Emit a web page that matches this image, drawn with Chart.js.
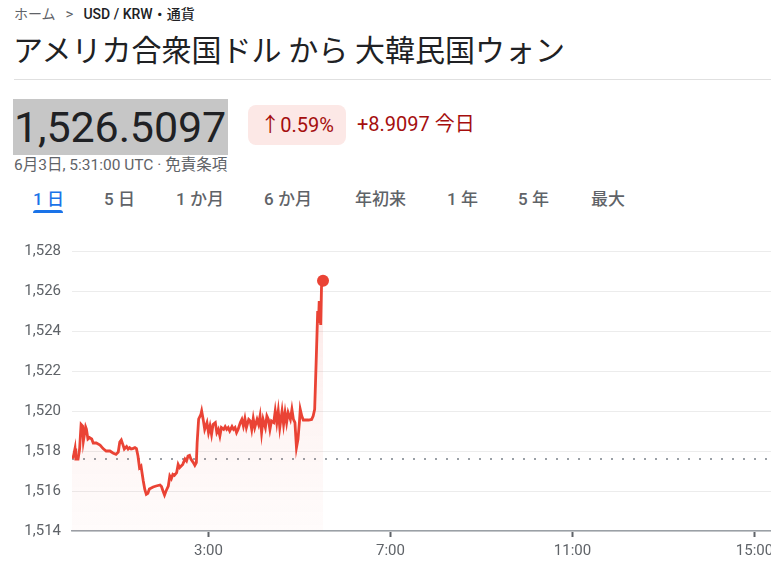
<!DOCTYPE html>
<html lang="ja">
<head>
<meta charset="utf-8">
<title>USD / KRW</title>
<script src="https://cdn.jsdelivr.net/npm/chart.js@4.4.1/dist/chart.umd.min.js"></script>
<style>
  html, body { margin: 0; padding: 0; background: #fff; overflow: hidden; width: 771px; height: 581px; }
  body { position: relative; font-family: Roboto, "Noto Sans CJK JP", sans-serif; color: #202124; }
  .abs { position: absolute; white-space: nowrap; }
  .crumb { left: 14px; top: 4px; font-size: 14px; line-height: 20px; font-family: Roboto, "Noto Sans CJK JP", sans-serif; }
  .crumb .home { color: #5f6368; }
  .crumb .sep { color: #5f6368; margin: 0 10px 0 10px; font-size: 15px; }
  .crumb .cur { color: #202124; font-weight: 500; }
  .title { left: 13px; top: 27px; font-size: 30px; line-height: 42px; font-family: "Noto Sans CJK JP", sans-serif; color: #202124; }
  .rule { left: 14px; top: 79px; width: 757px; height: 1px; background: #e0e0e0; }
  .price { left: 13px; top: 99px; width: 215px; height: 56px; background: #c6c6c6; font-size: 43px; line-height: 56px; letter-spacing: -0.1px; color: #202124; }
  .price span { padding-left: 1px; }
  .badge { left: 248px; top: 105px; width: 98px; height: 40px; border-radius: 8px; background: #fce8e6; color: #a50e0e; font-size: 20px; line-height: 40px; text-align: center; font-weight: 400; }
  .delta { left: 357px; top: 109px; font-size: 20px; line-height: 28px; color: #a50e0e; font-weight: 400; }
  .delta .jp { font-family: "Noto Sans CJK JP", sans-serif; font-weight: 400; }
  .stamp { left: 14px; top: 154px; font-size: 15.5px; line-height: 22px; color: #5f6368; }
  .tab { top: 187px; font-size: 17px; line-height: 24px; color: #5f6368; font-weight: 500; font-family: Roboto, "Noto Sans CJK JP", sans-serif; }
  .tab.on { color: #1a73e8; }
  .bar { left: 33px; top: 210px; width: 30px; height: 3px; background: #1a73e8; border-radius: 3px 3px 0 0; }
  #wrap { position: absolute; left: 0; top: 231px; width: 1170px; height: 350px; }
</style>
</head>
<body>
  <div class="abs crumb"><span class="home">ホーム</span><span class="sep">&gt;</span><span class="cur">USD / KRW・通貨</span></div>
  <div class="abs title">アメリカ合衆国ドル から 大韓民国ウォン</div>
  <div class="abs rule"></div>
  <div class="abs price"><span>1,526.5097</span></div>
  <div class="abs badge">↑0.59%</div>
  <div class="abs delta">+8.9097 <span class="jp">今日</span></div>
  <div class="abs stamp">6月3日, 5:31:00 UTC · 免責条項</div>
  <div class="abs tab on" style="left:33px;">1 日</div>
  <div class="abs tab" style="left:104px;">5 日</div>
  <div class="abs tab" style="left:176px;">1 か月</div>
  <div class="abs tab" style="left:264px;">6 か月</div>
  <div class="abs tab" style="left:355px;">年初来</div>
  <div class="abs tab" style="left:447px;">1 年</div>
  <div class="abs tab" style="left:518px;">5 年</div>
  <div class="abs tab" style="left:591px;">最大</div>
  <div class="abs bar"></div>
  <div id="wrap"><canvas id="chart"></canvas></div>

<script>
// 1日チャート: 分(0:00 UTC から)とレート
const minutes = [
  0, 2, 4, 5, 8, 10, 12, 14, 15, 18, 19, 21, 23, 26, 28, 32, 37, 41, 45, 50,
  54, 58, 61, 63, 65, 67, 69, 72, 74, 76, 78, 80, 83, 85, 87, 89, 91, 94, 96, 98,
  100, 102, 107, 111, 116, 118, 120, 122, 124, 127, 129, 131, 133, 135, 138, 140, 142, 144, 146, 149,
  151, 153, 155, 157, 160, 162, 164, 165, 167, 170, 171, 173, 175, 178, 180, 182, 184, 186, 189, 191,
  193, 195, 197, 200, 202, 204, 206, 208, 211, 213, 215, 217, 219, 222, 224, 226, 228, 230, 233, 235,
  237, 239, 241, 244, 246, 248, 250, 252, 255, 257, 259, 261, 263, 266, 268, 270, 272, 274, 277, 279,
  281, 283, 285, 288, 290, 292, 294, 296, 298, 300, 301, 303, 305, 307, 312, 316, 318, 320, 322, 324,
  325, 326, 328, 329, 331,
];
const rates = [
  1517.63, 1517.75, 1518.13, 1517.6, 1517.6, 1518.1, 1519.33, 1519.25, 1518.5, 1519.2, 1519.1, 1518.6, 1518.67, 1518.6, 1518.4, 1518.4, 1518.3, 1518.12, 1518.0, 1518.0,
  1517.9, 1517.83, 1517.95, 1518.45, 1518.55, 1518.33, 1518.1, 1518.22, 1518.1, 1518.17, 1518.1, 1518.12, 1518.17, 1518.12, 1517.75, 1517.17, 1517.25, 1516.5, 1516.08, 1515.83,
  1515.88, 1516.1, 1516.2, 1516.25, 1516.3, 1516.22, 1516.0, 1515.8, 1516.0, 1516.25, 1516.75, 1516.62, 1516.83, 1516.78, 1516.92, 1517.33, 1517.17, 1517.25, 1517.33, 1517.6,
  1517.5, 1517.75, 1517.78, 1517.58, 1517.42, 1517.28, 1517.42, 1518.4, 1519.6, 1519.83, 1520.0, 1519.58, 1519.08, 1519.42, 1518.92, 1519.25, 1518.83, 1519.33, 1519.42, 1518.92,
  1519.08, 1518.75, 1519.17, 1519.08, 1519.22, 1519.08, 1519.17, 1519.0, 1519.22, 1519.08, 1519.17, 1518.92, 1519.08, 1519.42, 1519.58, 1519.25, 1519.62, 1519.17, 1519.58, 1519.5,
  1519.08, 1519.62, 1519.17, 1519.58, 1519.33, 1519.75, 1518.92, 1519.58, 1519.17, 1519.75, 1519.58, 1519.08, 1519.5, 1519.42, 1520.0, 1519.42, 1520.0, 1519.17, 1520.0, 1519.33,
  1519.92, 1519.42, 1519.92, 1519.58, 1520.08, 1519.58, 1519.42, 1518.17, 1518.58, 1519.5, 1520.08, 1519.75, 1519.55, 1519.55, 1519.55, 1519.58, 1519.75, 1520.08, 1522.5, 1525.0,
  1524.4, 1525.5, 1524.3, 1526.2, 1526.5097,
];
const previousClose = 1517.6;
const dayRange = [0, 1440];
const yRange = [1514, 1528];
const yTickStep = 2;
const xTickMinutes = [180, 420, 660, 900, 1140, 1380];

const RED = "#ea4335";
const TICK_FONT = { family: "Roboto, sans-serif", size: 15 };

function minuteLabel(m) {
  const h = Math.floor(m / 60);
  const mm = String(m % 60).padStart(2, "0");
  return `${h}:${mm}`;
}

function fillGradient(ctx) {
  const area = ctx.chart.chartArea;
  if (!area) return "rgba(234,67,53,0.05)";
  const g = ctx.chart.ctx.createLinearGradient(0, area.top, 0, area.bottom);
  g.addColorStop(0, "rgba(234,67,53,0.14)");
  g.addColorStop(0.55, "rgba(234,67,53,0.06)");
  g.addColorStop(1, "rgba(234,67,53,0.02)");
  return g;
}

const lastIndex = rates.length - 1;

new Chart(document.getElementById("chart"), {
  type: "line",
  data: {
    datasets: [
      {
        label: "USD/KRW",
        data: minutes.map((m, i) => ({ x: m, y: rates[i] })),
        borderColor: RED,
        borderWidth: 2.8,
        tension: 0,
        fill: "start",
        backgroundColor: fillGradient,
        pointRadius: (ctx) => (ctx.dataIndex === lastIndex ? 6 : 0),
        pointBackgroundColor: RED,
        pointBorderWidth: 0,
        order: 1,
      },
      {
        label: "前日終値",
        data: dayRange.map((m) => ({ x: m, y: previousClose })),
        borderColor: "#9aa0a6",
        borderWidth: 2,
        borderDash: [2, 9],
        pointRadius: 0,
        fill: false,
        order: 2,
      },
    ],
  },
  options: {
    responsive: true,
    maintainAspectRatio: false,
    animation: false,
    layout: { padding: { top: 11, right: 0, bottom: 0, left: 0 } },
    plugins: { legend: { display: false }, tooltip: { enabled: false } },
    scales: {
      x: {
        type: "linear",
        min: dayRange[0],
        max: dayRange[1],
        afterBuildTicks: (scale) => {
          scale.ticks = xTickMinutes.map((v) => ({ value: v }));
        },
        afterFit: (scale) => {
          scale.height = 50;
        },
        ticks: {
          autoSkip: false,
          maxRotation: 0,
          padding: 5,
          color: "#5f6368",
          font: TICK_FONT,
          callback: (v) => minuteLabel(v),
        },
        grid: {
          drawOnChartArea: false,
          drawTicks: true,
          tickLength: 6,
          tickWidth: 2,
          color: "#5f6368",
        },
        border: { display: true, color: "#9aa0a6", width: 1.5 },
      },
      y: {
        min: yRange[0],
        max: yRange[1],
        afterFit: (scale) => {
          scale.width = 72;
        },
        ticks: {
          stepSize: yTickStep,
          padding: 11,
          color: "#5f6368",
          font: TICK_FONT,
          callback: (v) => v.toLocaleString("en-US"),
        },
        grid: { color: "#ececec", drawTicks: false, lineWidth: 1 },
        border: { display: false },
      },
    },
  },
});
</script>
</body>
</html>
